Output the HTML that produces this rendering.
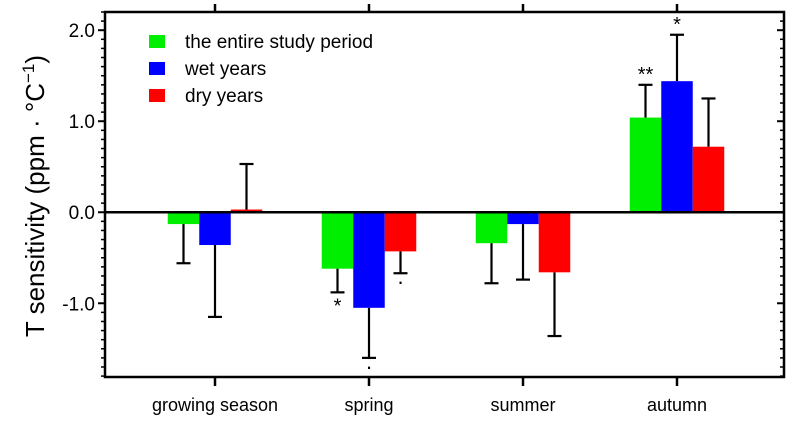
<!DOCTYPE html>
<html><head><meta charset="utf-8"><style>
body{margin:0;background:#fff;}
svg{display:block;font-family:"Liberation Sans",sans-serif;}
</style></head><body>
<svg id="c" width="798" height="421"></svg>
<script>
const categories=["growing season","spring","summer","autumn"];
const seriesNames=["the entire study period","wet years","dry years"];
const colors=["#00ee00","#0000ff","#ff0000"];
const entireVals=[-0.13,-0.62,-0.34,1.04];
const entireErr=[-0.56,-0.88,-0.78,1.40];
const wetVals=[-0.36,-1.05,-0.13,1.44];
const wetErr=[-1.15,-1.60,-0.74,1.95];
const dryVals=[0.03,-0.43,-0.66,0.72];
const dryErr=[0.53,-0.67,-1.36,1.25];
const yTicks=[-1.0,0.0,1.0,2.0];
const yTickLabels=["-1.0","0.0","1.0","2.0"];
const marks=[{c:0,s:1,t:"*"},{c:0,s:0,t:"**"},{c:1,s:0,t:"*"},{c:1,s:1,t:"."},{c:1,s:2,t:"."}];
marks.length=0;
const annCat=[3,3,1,1,1], annSer=[0,1,0,1,2], annText=["**","*","*","·","·"];

const L=105,R=784,T=12,B=377;
const yMin=-1.81,yMax=2.2;
const y=v=>T+(yMax-v)/(yMax-yMin)*(B-T);
const step=154, x0=215, bw=31.5;
const cx=i=>x0+i*step;
const svg=document.getElementById('c');
const NS="http://www.w3.org/2000/svg";
function el(tag,attrs,parent){const e=document.createElementNS(NS,tag);for(const k in attrs)e.setAttribute(k,attrs[k]);(parent||svg).appendChild(e);return e;}
const vals=[entireVals,wetVals,dryVals], errs=[entireErr,wetErr,dryErr];
// bars
for(let s=0;s<3;s++){for(let i=0;i<categories.length;i++){
 const bx=cx(i)+(s-1.5)*bw, v=vals[s][i], e=errs[s][i];
 const r=el('rect',{x:bx,y:Math.min(y(v),y(0)),width:bw,height:Math.abs(y(v)-y(0)),fill:colors[s]});
 
 
 const mx=bx+bw/2;
 const g=el('g',{stroke:'#000','stroke-width':2.2});
 
 
 el('line',{x1:mx,x2:mx,y1:y(v),y2:y(e)},g);
 el('line',{x1:mx-7,x2:mx+7,y1:y(e),y2:y(e)},g);
}}
// annotations
for(let k=0;k<annCat.length;k++){
 const i=annCat[k],s=annSer[k],e=errs[s][i];
 const mx=cx(i)+(s-1.5)*bw+bw/2;
 const up=e>0;
 const t=el('text',{x:mx,y:up?y(e)-4:y(e)+(annText[k]==="*"?20:16),'text-anchor':'middle','font-size':annText[k]==="·"?22:20});
 t.textContent=annText[k];
 
 
}
// zero line
const z=el('line',{x1:L,x2:R,y1:y(0),y2:y(0),stroke:'#000','stroke-width':2.5});


// frame
const f=el('rect',{x:L,y:T,width:R-L,height:B-T,fill:'none',stroke:'#000','stroke-width':2.5});


// y ticks
const tg=el('g',{stroke:'#000','stroke-width':1.5});


for(let m=-18;m<=22;m++){const v=m/10,yy=y(v);if(yy<T||yy>B)continue;
 const major=m%10===0;
 el('line',{x1:L-(major?7:4),x2:L,y1:yy,y2:yy,'stroke-width':major?2:1.5},tg);
 el('line',{x1:R,x2:R-(major?7:4),y1:yy,y2:yy,'stroke-width':major?2:1.5},tg);}
for(let k=0;k<yTicks.length;k++){
 const t=el('text',{x:L-10,y:y(yTicks[k])+7,'text-anchor':'end','font-size':19});
 t.textContent=yTickLabels[k];
 
 
}
// x ticks & labels
for(let i=0;i<categories.length;i++){
 el('line',{x1:cx(i),x2:cx(i),y1:B,y2:B+9,stroke:'#000','stroke-width':2.5},tg);
 el('line',{x1:cx(i),x2:cx(i),y1:T,y2:T-8,stroke:'#000','stroke-width':2.5},tg);
 const t=el('text',{x:cx(i),y:411,'text-anchor':'middle','font-size':18});
 t.textContent=categories[i];
 
 
}
// y title
const yt=el('text',{x:0,y:0,'font-size':26,'text-anchor':'middle',transform:'translate(44,196) rotate(-90)'});
yt.innerHTML='T sensitivity (ppm · °C<tspan dy="-10" font-size="17">−1</tspan><tspan dy="10">)</tspan>';


// legend
for(let s=0;s<3;s++){
 const g=el('g',{});
 
 
 const yy=[41,68,95][s];
 el('rect',{x:149,y:yy-6,width:16,height:13,fill:colors[s]},g);
 const t=el('text',{x:185,y:yy+7,'font-size':19},g);
 t.textContent=seriesNames[s];
}
</script>
</body></html>
